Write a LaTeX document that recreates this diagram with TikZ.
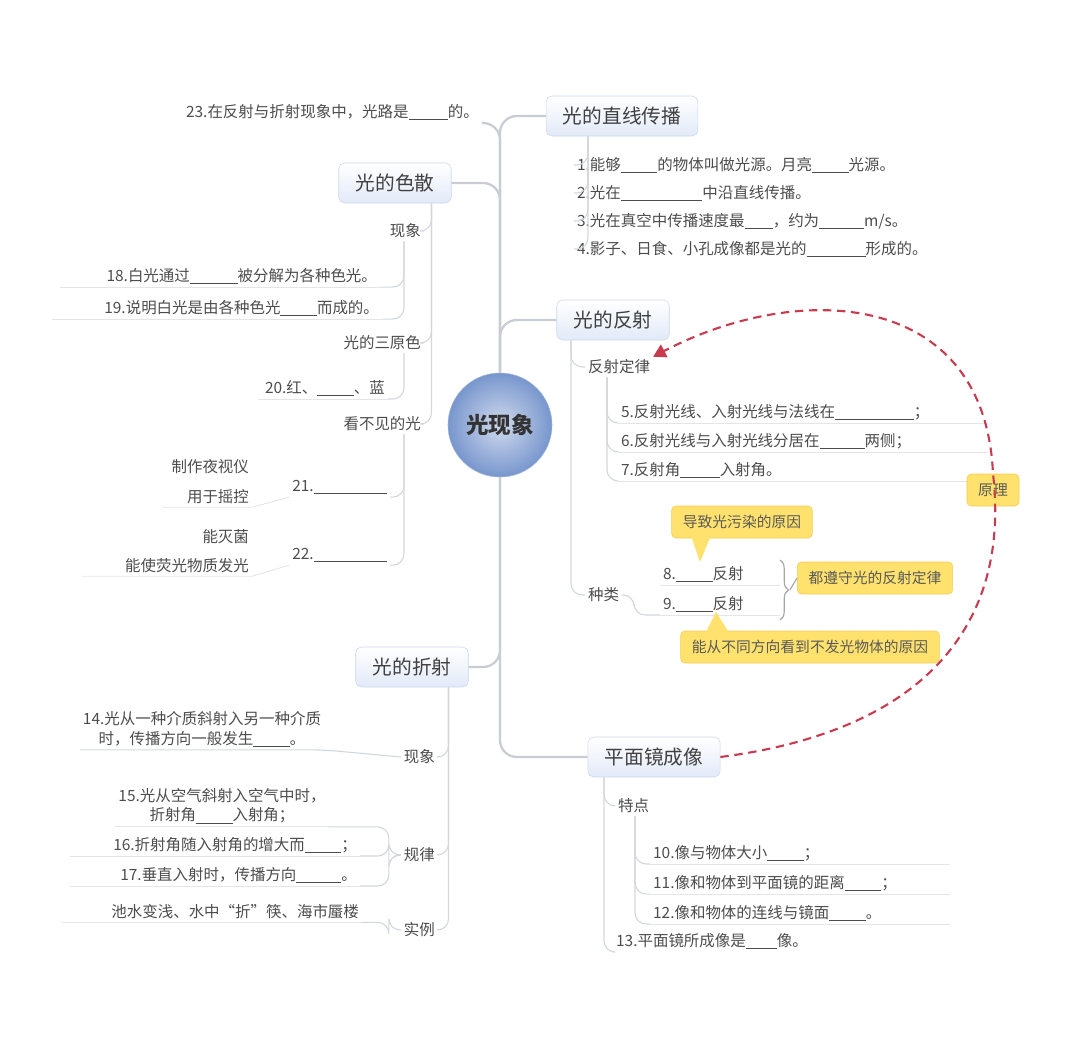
\documentclass[tikz,border=0pt]{standalone}
\usepackage{fontspec}
\setmainfont{Noto Sans CJK SC}
\usetikzlibrary{arrows.meta, positioning, calc, decorations.pathreplacing}
\definecolor{branchgray}{RGB}{200, 205, 212}
\definecolor{boxedge}{RGB}{205, 215, 235}
\definecolor{boxfill}{RGB}{226, 234, 248}
\definecolor{notefill}{RGB}{255, 226, 110}
\definecolor{noteedge}{RGB}{240, 205, 90}
\definecolor{linkred}{RGB}{200, 60, 80}
\definecolor{rootblue}{RGB}{120, 150, 205}
\newcommand{\blank}[1]{\rule[-2pt]{#1}{0.4pt}}

\begin{document}
\begin{tikzpicture}[x=0.025cm, y=-0.025cm,
    topic/.style={draw=boxedge, rounded corners=4pt, top color=white, bottom color=boxfill,
      font=\fontsize{14}{16}\selectfont, text=black!75, minimum height=1cm, inner xsep=12pt},
    leaf/.style={font=\fontsize{11}{14}\selectfont, text=black!70, inner sep=2pt},
    note/.style={fill=notefill, draw=noteedge, rounded corners=3pt,
      font=\fontsize{10.5}{12}\selectfont, text=black!65, inner xsep=8pt, minimum height=0.8cm},
    branch/.style={draw=branchgray, line width=1.6pt, rounded corners=12pt},
    twig/.style={draw=branchgray!80, line width=0.8pt, rounded corners=8pt},
    uline/.style={draw=black!10, line width=0.6pt}]
  \useasboundingbox (0,0) rectangle (1080,1048);

  % centre and main topics
  \node[circle, minimum size=2.6cm, inner color=rootblue!35, outer color=rootblue,
    draw=rootblue!70, font=\fontsize{16}{18}\selectfont\bfseries, text=black!80] (root) at (500,425) {光现象};
  \node[topic] (zhixian) at (622,116) {光的直线传播};
  \node[topic] (fanshe) at (613,320) {光的反射};
  \node[topic] (pingmian) at (654,757) {平面镜成像};
  \node[topic] (sesan) at (395,183) {光的色散};
  \node[topic] (zheshe) at (412,667) {光的折射};
  \node[leaf, anchor=east] (t23) at (482,112) {23.在反射与折射现象中，光路是\blank{28pt}的。};

  \draw[branch] (root.north) |- (zhixian.west);
  \draw[branch] (root.north) |- (fanshe.west);
  \draw[branch] (root.south) |- (pingmian.west);
  \draw[branch] (root.north) |- (sesan.east);
  \draw[branch] (root.south) |- (zheshe.east);
  \draw[branch] (root.north) |- (t23.south east);

  % straight-line propagation
  \node[leaf, anchor=west] (z1) at (574,165) {1.能够\blank{26pt}的物体叫做光源。月亮\blank{26pt}光源。};
  \node[leaf, anchor=west] (z2) at (574,193) {2.光在\blank{58pt}中沿直线传播。};
  \node[leaf, anchor=west] (z3) at (574,221) {3.光在真空中传播速度最\blank{20pt}，约为\blank{32pt}m/s。};
  \node[leaf, anchor=west] (z4) at (574,249) {4.影子、日食、小孔成像都是光的\blank{42pt}形成的。};
  \foreach \n in {z1,z2,z3,z4}
    \draw[twig] ([xshift=-0.85cm]zhixian.south) |- (\n.west);

  % reflection
  \node[leaf, anchor=west] (dinglv) at (585,367) {反射定律};
  \node[leaf, anchor=west] (f5) at (618,412) {5.反射光线、入射光线与法线在\blank{56pt}；};
  \node[leaf, anchor=west] (f6) at (618,441) {6.反射光线与入射光线分居在\blank{32pt}两侧；};
  \node[leaf, anchor=west] (f7) at (618,470) {7.反射角\blank{28pt}入射角。};
  \node[leaf, anchor=west] (zhonglei) at (585,595) {种类};
  \node[leaf, anchor=west] (f8) at (660,574) {8.\blank{26pt}反射};
  \node[leaf, anchor=west] (f9) at (660,604) {9.\blank{26pt}反射};
  \draw[twig] ([xshift=-1.05cm]fanshe.south) |- (dinglv.west);
  \draw[twig] ([xshift=-1.05cm]fanshe.south) |- (zhonglei.west);
  \foreach \n in {f5,f6,f7}
    \draw[twig] ([xshift=0.55cm]dinglv.south west) |- (\n.south west);
  \draw[twig] (zhonglei.east) -- ++(12,0) |- (f9.south west);
  \foreach \n in {f5,f6,f7}
    \draw[uline] (\n.south west) -- ++(370,0);
  \draw[uline] (f8.south west) -- ++(120,0);
  \draw[uline] (f9.south west) -- ++(120,0);
  \draw[draw=black!35, decorate, decoration={brace, amplitude=6pt}, line width=0.8pt]
    (780,560) -- (780,620) coordinate[pos=0.5] (bracetip);
  \node[note, anchor=west] (zunshou) at (797,578) {都遵守光的反射定律};
  \draw[draw=black!35, line width=0.8pt] ([xshift=7pt]bracetip) -- (zunshou.west);
  \node[note] (wuran) at (742,522) {导致光污染的原因};
  \fill[notefill] (690,533) -- (712,533) -- (700,562) -- cycle;
  \node[note] (butong) at (810,647) {能从不同方向看到不发光物体的原因};
  \fill[notefill] (705,634) -- (730,634) -- (716,612) -- cycle;
  \node[note] (yuanli) at (993,490) {原理};

  % plane mirror
  \node[leaf, anchor=west] (tedian) at (615,806) {特点};
  \node[leaf, anchor=west] (p10) at (650,853) {10.像与物体大小\blank{26pt}；};
  \node[leaf, anchor=west] (p11) at (650,883) {11.像和物体到平面镜的距离\blank{26pt}；};
  \node[leaf, anchor=west] (p12) at (650,913) {12.像和物体的连线与镜面\blank{26pt}。};
  \node[leaf, anchor=west] (p13) at (613,941) {13.平面镜所成像是\blank{22pt}像。};
  \draw[twig] ([xshift=-1.25cm]pingmian.south) |- (tedian.west);
  \draw[twig] ([xshift=-1.25cm]pingmian.south) |- (p13.south west);
  \foreach \n in {p10,p11,p12}
    \draw[twig] ([xshift=0.5cm]tedian.south west) |- (\n.south west);
  \foreach \n in {p10,p11,p12}
    \draw[uline] (\n.south west) -- ++(300,0);

  \draw[linkred, line width=1.5pt, dash pattern=on 6pt off 4pt, -{Triangle[length=9pt, width=10pt]}]
    (pingmian.east) .. controls (930,730) and (1010,620) .. (yuanli.north)
    .. controls (985,290) and (800,280) .. (dinglv.north east);

  % dispersion
  \node[leaf, anchor=east] (xianxiang1) at (424,231) {现象};
  \node[leaf, anchor=east] (sanyuan) at (424,343) {光的三原色};
  \node[leaf, anchor=east] (kanbujian) at (424,424) {看不见的光};
  \node[leaf, anchor=east] (s18) at (380,276) {18.白光通过\blank{34pt}被分解为各种色光。};
  \node[leaf, anchor=east] (s19) at (382,308) {19.说明白光是由各种色光\blank{26pt}而成的。};
  \node[leaf, anchor=east] (s20) at (388,388) {20.红、\blank{26pt}、蓝};
  \node[leaf, anchor=east] (s21) at (390,487) {21.\blank{52pt}};
  \node[leaf, anchor=east] (s22) at (390,555) {22.\blank{52pt}};
  \node[leaf, anchor=east] (yeshi) at (252,467) {制作夜视仪};
  \node[leaf, anchor=east] (yaokong) at (252,497) {用于摇控};
  \node[leaf, anchor=east] (miejun) at (252,537) {能灭菌};
  \node[leaf, anchor=east] (yingguang) at (252,566) {能使荧光物质发光};
  \foreach \n in {xianxiang1,sanyuan,kanbujian}
    \draw[twig] ([xshift=-0.5cm]sesan.south east) |- (\n.east);
  \draw[twig] ([xshift=-0.5cm]xianxiang1.south east) |- (s18.south east);
  \draw[twig] ([xshift=-0.5cm]xianxiang1.south east) |- (s19.south east);
  \draw[twig] ([xshift=-0.5cm]sanyuan.south east) |- (s20.south east);
  \draw[twig] ([xshift=-0.5cm]kanbujian.south east) |- (s21.south east);
  \draw[twig] ([xshift=-0.5cm]kanbujian.south east) |- (s22.south east);
  \draw[uline] (s18.south east) -- ++(-320,0);
  \draw[uline] (s19.south east) -- ++(-330,0);
  \draw[uline] (s20.south east) -- ++(-130,0);
  \draw[uline] (s21.south west) -- (yaokong.south east) -- ++(-90,0);
  \draw[uline] (s22.south west) -- (yingguang.south east) -- ++(-170,0);

  % refraction
  \node[leaf, anchor=east] (xianxiang2) at (438,757) {现象};
  \node[leaf, anchor=east] (guilv) at (438,855) {规律};
  \node[leaf, anchor=east] (shili) at (438,930) {实例};
  \node[leaf, align=center] (r14) at (202,729) {14.光从一种介质斜射入另一种介质\\时，传播方向一般发生\blank{26pt}。};
  \node[leaf, align=center] (r15) at (222,806) {15.光从空气斜射入空气中时，\\折射角\blank{26pt}入射角；};
  \node[leaf, anchor=east] (r16) at (360,845) {16.折射角随入射角的增大而\blank{26pt}；};
  \node[leaf, anchor=east] (r17) at (360,875) {17.垂直入射时，传播方向\blank{32pt}。};
  \node[leaf, anchor=east] (r18) at (362,912) {池水变浅、水中“折”筷、海市蜃楼};
  \foreach \n in {xianxiang2,guilv,shili}
    \draw[twig] ([xshift=-0.5cm]zheshe.south east) |- (\n.east);
  \draw[twig] (xianxiang2.west) -- (r14.south east) -- (r14.south west);
  \draw[twig] (guilv.west) -- ++(-12,0) |- (r15.south east);
  \draw[twig] (guilv.west) -- ++(-12,0) |- (r17.south east);
  \draw[twig] (guilv.west) -- ++(-12,0) |- (r16.south east);
  \draw[twig] (shili.west) -- ++(-12,0) |- (r18.south east);
  \draw[uline] (r15.south east) -- (r15.south west);
  \draw[uline] (r16.south east) -- ++(-290,0);
  \draw[uline] (r17.south east) -- ++(-290,0);
  \draw[uline] (r18.south east) -- ++(-300,0);
\end{tikzpicture}
\end{document}
